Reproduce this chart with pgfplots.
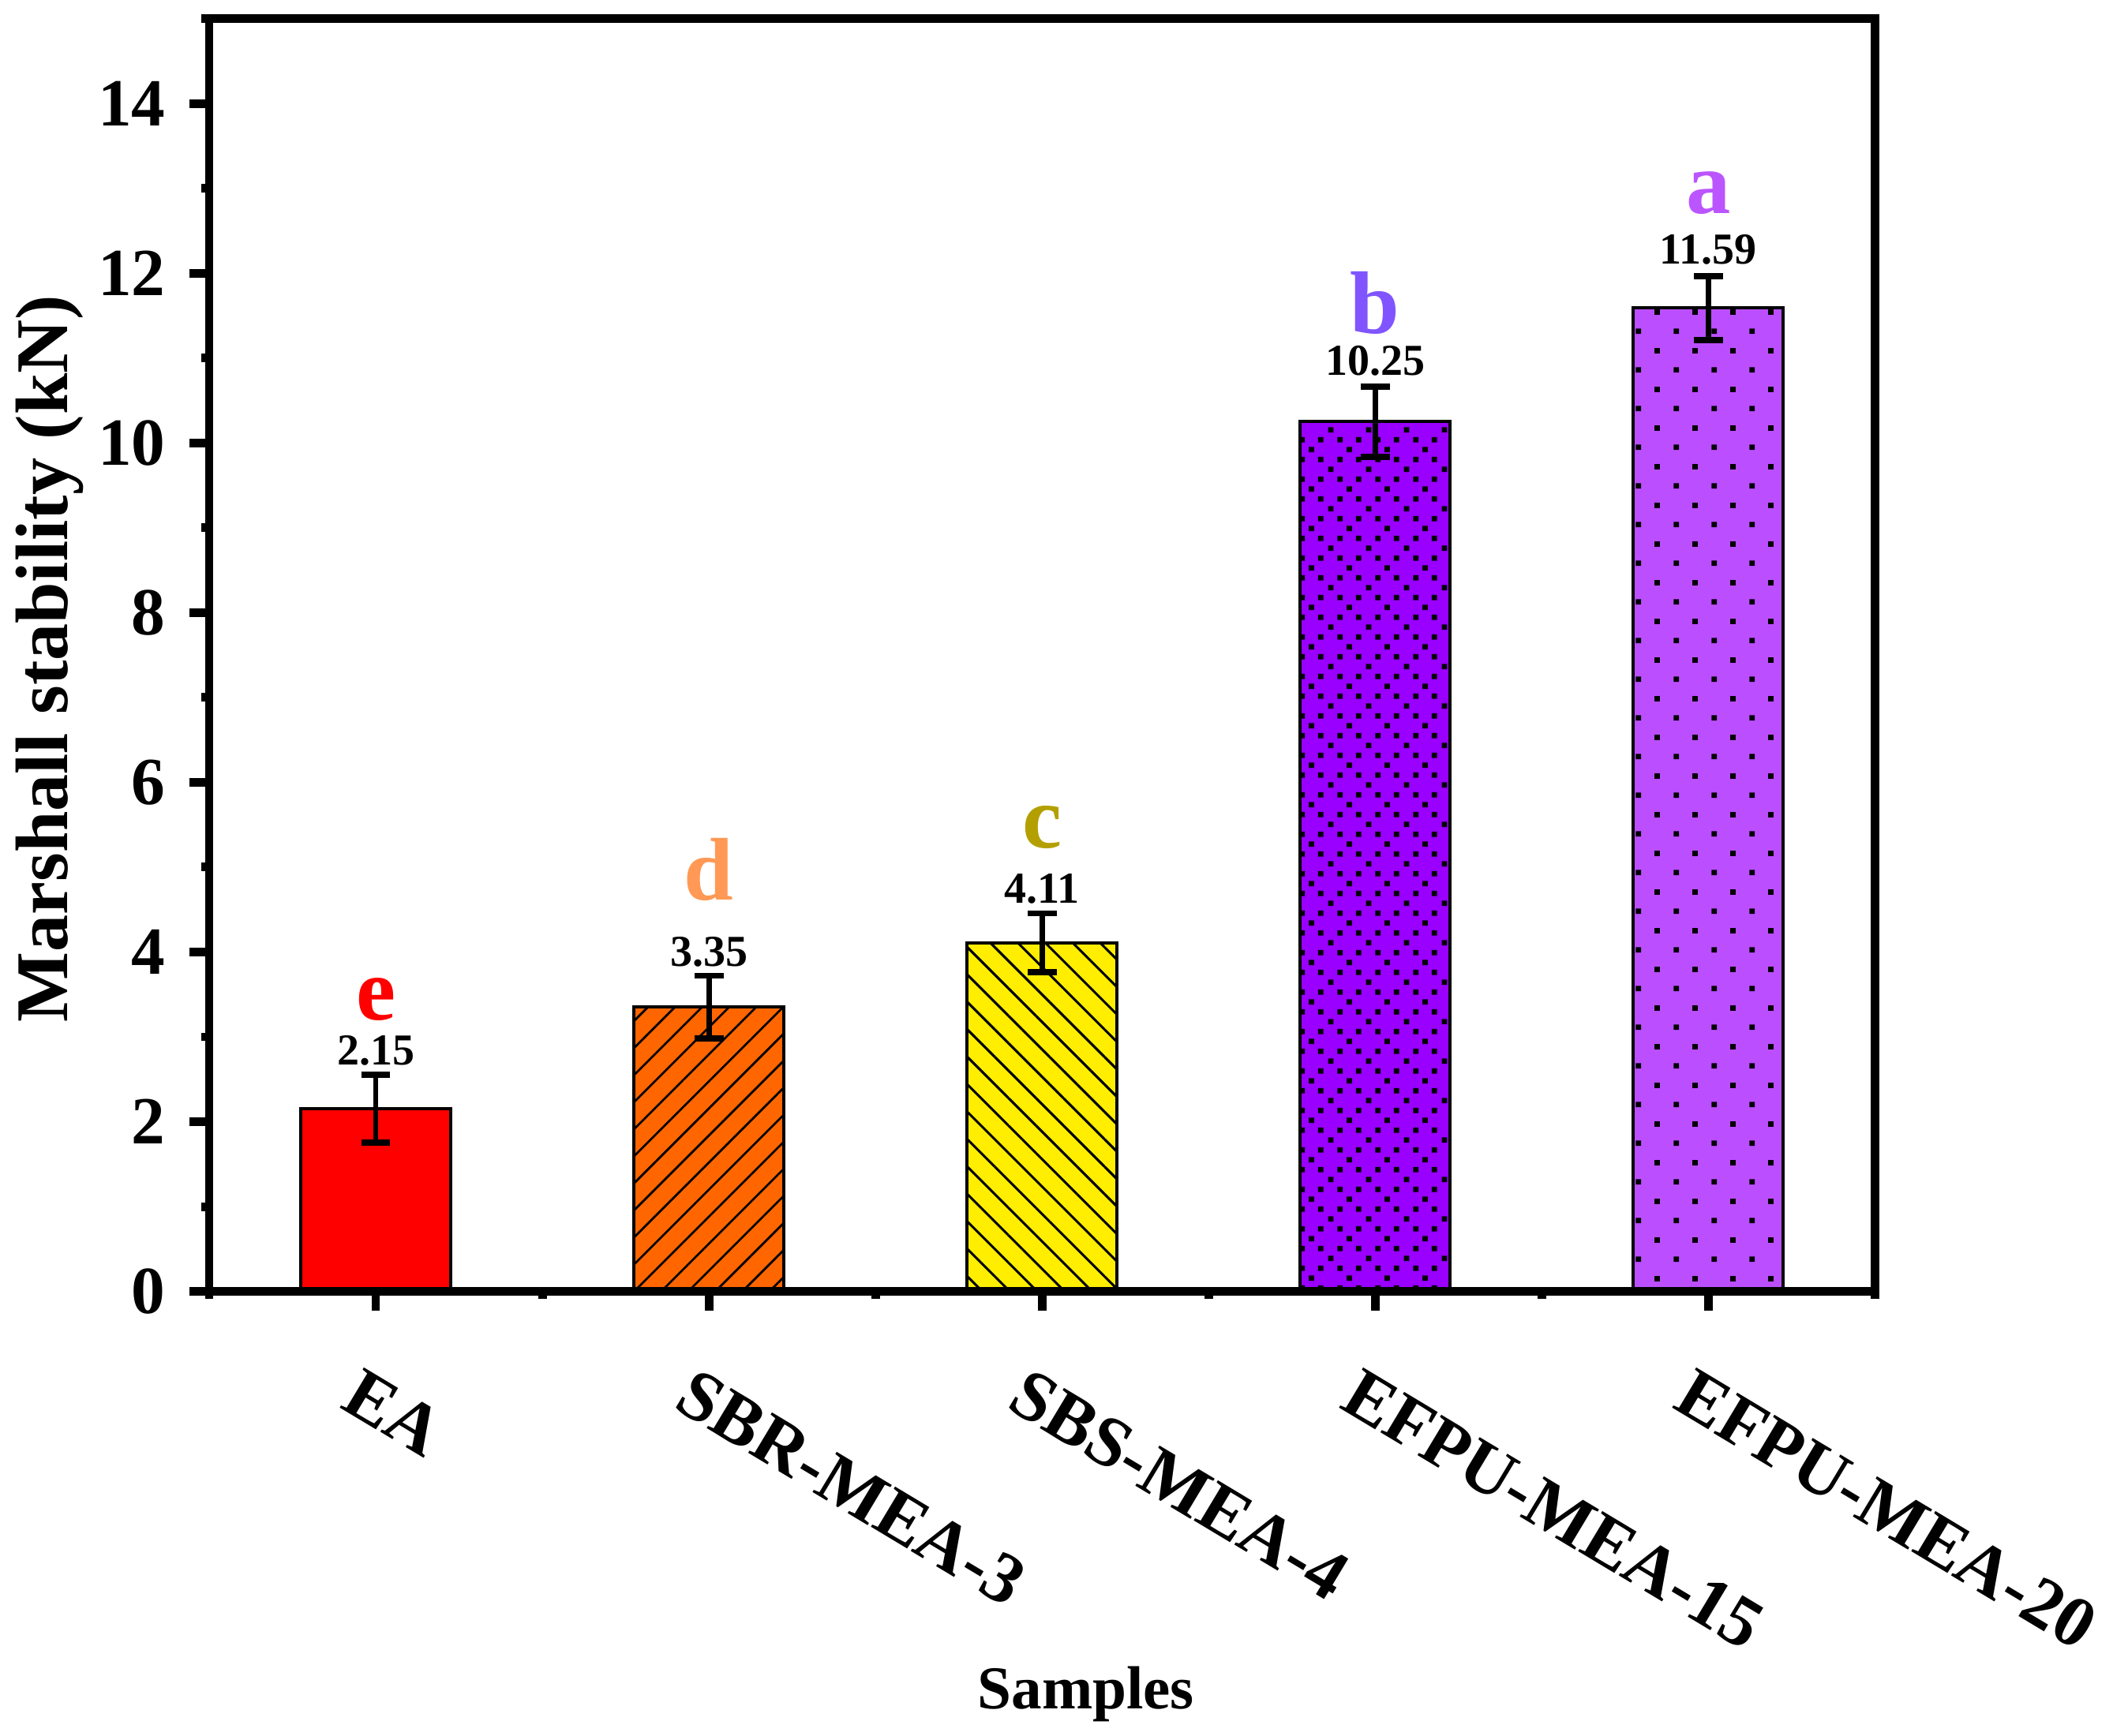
\documentclass[border=0pt]{standalone}
\usepackage{fontspec}
\setmainfont{Liberation Serif}
\usepackage{pgfplots}
\pgfplotsset{compat=1.18}
\usetikzlibrary{patterns,patterns.meta}

\definecolor{cEA}{HTML}{FF0000}
\definecolor{cSBR}{HTML}{FF6600}
\definecolor{cSBS}{HTML}{FFEE00}
\definecolor{cFA}{HTML}{9900FF}
\definecolor{cFB}{HTML}{BB4FFF}
\definecolor{lE}{HTML}{FF0000}
\definecolor{lD}{HTML}{FF9955}
\definecolor{lC}{HTML}{B3A000}
\definecolor{lB}{HTML}{8055FF}
\definecolor{lA}{HTML}{BB55FF}

\pgfdeclarepatternformonly{dotsdense}{\pgfpointorigin}{\pgfqpoint{7.03pt}{7.32pt}}{\pgfqpoint{7.03pt}{7.32pt}}{%
  \pgfpathrectangle{\pgfqpoint{0.379pt}{0.415pt}}{\pgfqpoint{1pt}{1pt}}%
  \pgfpathrectangle{\pgfqpoint{2.136pt}{2.245pt}}{\pgfqpoint{1pt}{1pt}}%
  \pgfpathrectangle{\pgfqpoint{5.651pt}{2.245pt}}{\pgfqpoint{1pt}{1pt}}%
  \pgfpathrectangle{\pgfqpoint{3.894pt}{4.075pt}}{\pgfqpoint{1pt}{1pt}}%
  \pgfpathrectangle{\pgfqpoint{2.136pt}{5.905pt}}{\pgfqpoint{1pt}{1pt}}%
  \pgfpathrectangle{\pgfqpoint{5.651pt}{5.905pt}}{\pgfqpoint{1pt}{1pt}}%
  \pgfusepath{fill}}
\pgfdeclarepatternformonly{dotssparse}{\pgfpointorigin}{\pgfqpoint{7.03pt}{7.23pt}}{\pgfqpoint{7.03pt}{7.23pt}}{%
  \pgfpathrectangle{\pgfqpoint{1.258pt}{1.308pt}}{\pgfqpoint{1pt}{1pt}}%
  \pgfpathrectangle{\pgfqpoint{4.773pt}{4.923pt}}{\pgfqpoint{1pt}{1pt}}%
  \pgfusepath{fill}}

\newcommand{\valfont}{\fontsize{8.2}{8.2}\selectfont\bfseries}
\newcommand{\letfont}{\fontsize{16.5}{16.5}\selectfont\bfseries}

\pgfplotsset{myerr/.style={error bars/.cd, y dir=both, y explicit,
  error bar style={line width=1pt, black},
  error mark options={rotate=90, line width=1.15pt, mark size=2.7pt, black}}}

\begin{document}
\begin{tikzpicture}
\useasboundingbox (-38.8pt,-82.5pt) rectangle (353.2pt,239.65pt);
\begin{axis}[
  at={(0pt,0pt)}, anchor=south west,
  scale only axis, width=309.05pt, height=236.2pt,
  xmin=0.5, xmax=5.5, ymin=0, ymax=15,
  axis on top,
  ybar, bar width=0.45,
  xtick={1,2,3,4,5},
  xticklabels={EA,SBR-MEA-3,SBS-MEA-4,EFPU-MEA-15,EFPU-MEA-20},
  minor xtick={0.5,1.5,2.5,3.5,4.5,5.5},
  ytick={0,2,4,6,8,10,12,14},
  minor ytick={1,3,5,7,9,11,13,15},
  tick pos=left, tick align=outside,
  major tick length=3.6pt, minor tick length=1.4pt,
  every tick/.append style={black, line width=1.6pt},
  axis line style={line width=1.6pt, black},
  /pgf/number format/assume math mode=true,
  yticklabel style={font=\fontsize{12.5}{12.5}\selectfont\bfseries, anchor=east, inner sep=0pt, xshift=-4.3pt},
  xticklabel style={font=\fontsize{13.3}{13.3}\selectfont\bfseries, inner sep=0pt, xshift=-2.4pt, yshift=-10.1pt, rotate=-31, anchor=north west},
  ylabel={Marshall stability (kN)},
  ylabel style={font=\fontsize{13.8}{13.8}\selectfont\bfseries, at={(axis description cs:-0.08526,0.2106)}, anchor=base west, inner sep=0pt},
  xlabel={Samples},
  xlabel style={font=\fontsize{11.3}{11.3}\selectfont\bfseries, at={(axis description cs:0.5263,-0.328)}, anchor=base, inner sep=0pt},
]
\addplot[bar shift=0pt, fill=cEA, draw=black, line width=0.6pt, myerr]
  coordinates {(1,2.15) +- (0,0.40)};
\addplot[bar shift=0pt, fill=cSBR, draw=black, line width=0.6pt,
  postaction={pattern={Lines[angle=45,distance=3.55pt,line width=0.4pt]}}, myerr]
  coordinates {(2,3.35) +- (0,0.37)};
\addplot[bar shift=0pt, fill=cSBS, draw=black, line width=0.6pt,
  postaction={pattern={Lines[angle=-45,distance=3.6pt,line width=0.45pt]}}, myerr]
  coordinates {(3,4.11) +- (0,0.345)};
\addplot[bar shift=0pt, fill=cFA, draw=black, line width=0.6pt,
  postaction={pattern=dotsdense}, myerr]
  coordinates {(4,10.25) +- (0,0.415)};
\addplot[bar shift=0pt, fill=cFB, draw=black, line width=0.6pt,
  postaction={pattern=dotssparse}, myerr]
  coordinates {(5,11.59) +- (0,0.375)};

\node[font=\valfont, anchor=base, inner sep=0pt] at (axis cs:1,2.67) {2.15};
\node[font=\valfont, anchor=base, inner sep=0pt] at (axis cs:2,3.835) {3.35};
\node[font=\valfont, anchor=base, inner sep=0pt] at (axis cs:3,4.58) {4.11};
\node[font=\valfont, anchor=base, inner sep=0pt] at (axis cs:4,10.80) {10.25};
\node[font=\valfont, anchor=base, inner sep=0pt] at (axis cs:5,12.11) {11.59};

\node[font=\letfont, text=lE, anchor=base, inner sep=0pt] at (axis cs:1,3.20) {e};
\node[font=\letfont, text=lD, anchor=base, inner sep=0pt] at (axis cs:2,4.61) {d};
\node[font=\letfont, text=lC, anchor=base, inner sep=0pt] at (axis cs:3,5.23) {c};
\node[font=\letfont, text=lB, anchor=base, inner sep=0pt] at (axis cs:4,11.29) {b};
\node[font=\letfont, text=lA, anchor=base, inner sep=0pt] at (axis cs:5,12.70) {a};
\end{axis}
\end{tikzpicture}
\end{document}
